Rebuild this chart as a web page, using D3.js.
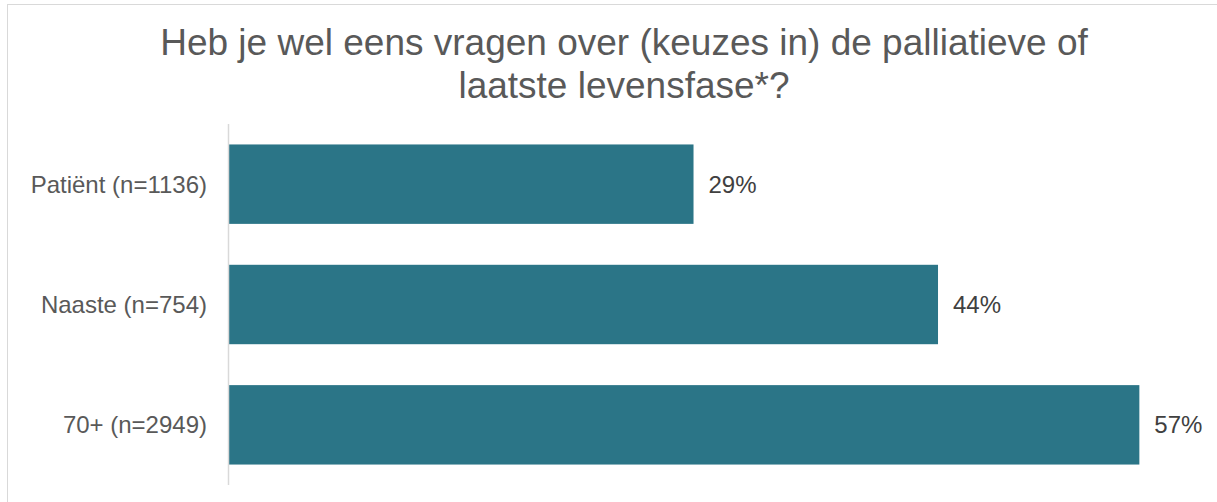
<!DOCTYPE html>
<html>
<head>
<meta charset="utf-8">
<script src="https://cdn.jsdelivr.net/npm/d3@7"></script>
<style>
  body { margin: 0; background: #fff; }
  svg text { font-family: "Liberation Sans", Arial, sans-serif; }
</style>
</head>
<body>
<div id="chart"></div>
<script>
// Chart data
const categories = ['Patiënt (n=1136)', 'Naaste (n=754)', '70+ (n=2949)'];
const values = [0.291, 0.444, 0.57];
const titleLines = ['Heb je wel eens vragen over (keuzes in) de palliatieve of', 'laatste levensfase*?'];

const width = 1217;
const height = 502;

const svg = d3.select('#chart').append('svg')
    .attr('width', width)
    .attr('height', height);

// chart area border (runs off the right and bottom edge)
svg.append('rect')
    .attr('x', 7.5)
    .attr('y', 4.5)
    .attr('width', 1400)
    .attr('height', 800)
    .style('fill', 'none')
    .style('stroke', '#d9d9d9');

// Title
svg.append('g')
    .selectAll('text')
    .data(titleLines)
    .enter().append('text')
    .attr('x', 624)
    .attr('y', (d, i) => 55 + i * 43)
    .attr('text-anchor', 'middle')
    .style('font-size', '37px')
    .style('fill', '#595959')
    .text(d => d);

const x = d3.scaleLinear()
    .domain([0, 0.6])
    .range([228.5, 228.5 + 0.6 * 1598]);

const y = d3.scaleBand()
    .domain(categories)
    .range([124, 485])
    .paddingInner(0.34)
    .paddingOuter(0.17);

// bars
svg.append('g')
    .selectAll('rect')
    .data(values)
    .enter().append('rect')
    .attr('x', x(0))
    .attr('y', (d, i) => y(categories[i]))
    .attr('width', d => x(d) - x(0))
    .attr('height', y.bandwidth())
    .style('fill', '#2b7587');

// y axis line
svg.append('line')
    .attr('x1', x(0))
    .attr('x2', x(0))
    .attr('y1', 124)
    .attr('y2', 485)
    .style('stroke', '#d9d9d9')
    .style('stroke-width', 1.5);

// category labels
svg.append('g')
    .selectAll('text')
    .data(categories)
    .enter().append('text')
    .attr('x', 207)
    .attr('y', d => y(d) + y.bandwidth() / 2)
    .attr('dy', '0.35em')
    .attr('text-anchor', 'end')
    .style('font-size', '24px')
    .style('fill', '#595959')
    .text(d => d);

// value labels
const fmt = d3.format('.0%');
svg.append('g')
    .selectAll('text')
    .data(values)
    .enter().append('text')
    .attr('x', d => x(d) + 15)
    .attr('y', (d, i) => y(categories[i]) + y.bandwidth() / 2)
    .attr('dy', '0.35em')
    .style('font-size', '24px')
    .style('fill', '#404040')
    .text(d => fmt(d));
</script>
</body>
</html>
